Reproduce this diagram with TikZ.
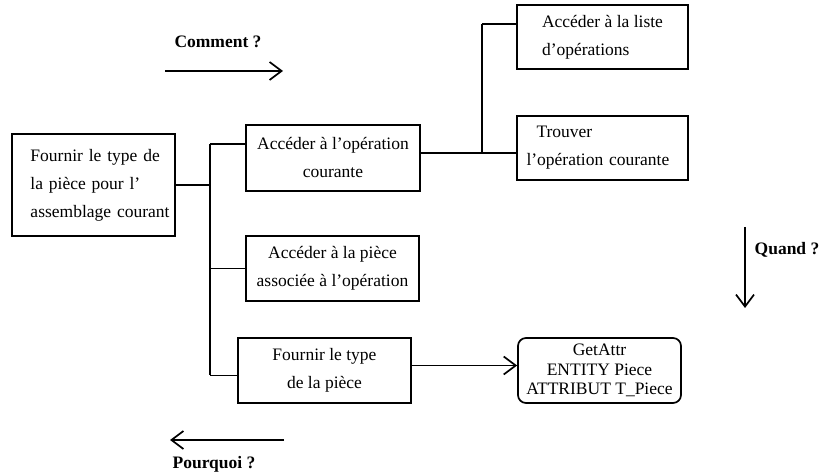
\documentclass[tikz,border=0pt]{standalone}
\usepackage{fontspec}
\setmainfont{Liberation Serif}
\usetikzlibrary{arrows.meta}
\begin{document}
\begin{tikzpicture}[x=1pt,y=-1pt,
  box/.style={draw,line width=1.7pt,minimum width=#1,inner sep=0pt,font=\fontsize{17.5}{28}\selectfont},
  line/.style={line width=1.7pt},
  arr/.style={line width=1.7pt,-{Straight Barb[length=12pt,width=18pt,line width=1.7pt]}},
  lbl/.style={font=\fontsize{17.5}{21}\selectfont\bfseries}]
\useasboundingbox (0,0) rectangle (823,473);
\node[box=163pt,minimum height=102pt,align=left,text width=152pt] (A) at (93.5,185) {\hspace*{13pt}Fournir le type de\\\hspace*{13pt}la pièce pour l'\\\hspace*{13pt}assemblage courant};
\node[box=174pt,minimum height=66pt,align=center] (B) at (333,158) {Accéder à l'opération\\courante};
\node[box=171pt,minimum height=64pt,align=left] (C) at (602.5,37) {Accéder à la liste\\d'opérations};
\node[box=171pt,minimum height=64pt,align=left,text width=152pt] (D) at (602.5,148) {\hspace*{10pt}Trouver\\l'opération courante};
\node[box=173pt,minimum height=65pt,align=center] (E) at (332.5,268.5) {Accéder à la pièce\\associée à l'opération};
\node[box=173pt,minimum height=65pt,align=center] (F) at (324.5,370.5) {Fournir le type\\de la pièce};
\node[box=163pt,minimum height=65pt,align=center,rounded corners=8pt,font=\fontsize{17.5}{19.5}\selectfont] (G) at (599.5,370.5) {GetAttr\\ENTITY Piece\\ATTRIBUT T\_Piece};
\coordinate (ttop) at (210,144);
\coordinate (tbot) at (210,375.5);
\coordinate (s2) at (482,24);
\coordinate (s) at (482,153);
\draw[line] (A.east) -- (A.east -| ttop);
\draw[line] (ttop) -- (tbot);
\draw[line] (ttop) -- (ttop -| B.west);
\draw[line] (E.west -| ttop) -- (E.west);
\draw[line] (tbot) -- (tbot -| F.west);
\draw[line] (s -| B.east) -- (s -| D.west);
\draw[line] (s2) -- (s);
\draw[line] (s2) -- (s2 -| C.west);
\draw[arr] ([yshift=5pt]F.east) -- ([yshift=5pt]F.east -| G.west);
\node[lbl] (cm) at (218,42) {Comment ?};
\coordinate (c1) at (165,71);
\coordinate (c2) at (283,71);
\draw[arr] (c1) -- (c2);
\node[lbl] (pq) at (214,464) {Pourquoi ?};
\coordinate (p1) at (284,440);
\coordinate (p2) at (170,440);
\draw[arr] (p1) -- (p2);
\node[lbl] (qd) at (787,250) {Quand ?};
\coordinate (q1) at (745,227);
\coordinate (q2) at (745,308);
\draw[arr] (q1) -- (q2);
\end{tikzpicture}
\end{document}
